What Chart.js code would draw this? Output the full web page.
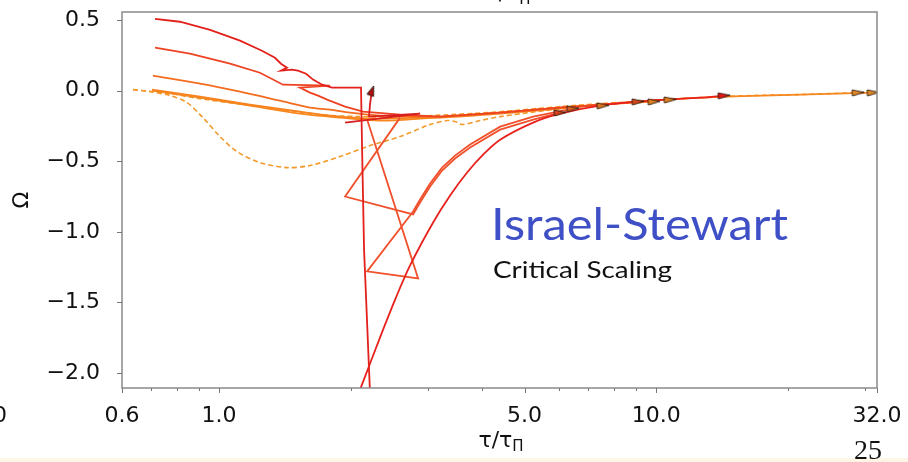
<!DOCTYPE html>
<html>
<head>
<meta charset="utf-8">
<script src="https://cdn.jsdelivr.net/npm/chart.js@4.4.1/dist/chart.umd.min.js"></script>
<style>
  html, body { margin: 0; padding: 0; background: #fff; }
  #wrap { width: 908px; height: 462px; overflow: hidden; }
</style>
</head>
<body>
<div id="wrap"><canvas id="chart" width="908" height="462"></canvas></div>
<script>
// axis ticks
const xMajorTicks = [0.6, 1, 5, 10, 32]
const xMinorTicks = [0.7, 0.8, 0.9, 2, 3, 4, 6, 7, 8, 9, 20, 30]
const yTicks = [0.5, 0, -0.5, -1, -1.5, -2]

// trajectories, tau/tau_Pi vs Omega
// start at Omega = 0.5, runs away downwards
const tauA = [0.714, 0.814, 0.954, 1.117, 1.254, 1.343, 1.386, 1.431, 1.386, 1.469, 1.516, 1.582, 1.641, 1.721, 1.814, 1.994, 2.113, 2.125, 2.147, 2.216]
const omegaA = [0.509, 0.488, 0.431, 0.354, 0.283, 0.233, 0.191, 0.163, 0.141, 0.149, 0.141, 0.120, 0.078, 0.042, 0.021, 0.021, 0.021, -0.417, -1.124, -2.15]
// start at Omega = 0.3
const tauB = [0.714, 0.858, 1.060, 1.241, 1.401, 1.795, 1.532, 1.615, 1.685, 1.767, 1.943, 2.136, 2.596, 2.884, 3.205, 4.396, 6.030, 7.444, 9.095]
const omegaB = [0.304, 0.262, 0.191, 0.127, 0.042, 0.035, 0.021, -0.014, -0.035, -0.064, -0.113, -0.149, -0.170, -0.177, -0.184, -0.156, -0.120, -0.099, -0.078]
// start at Omega = 0.1
const tauC = [0.706, 0.905, 1.117, 1.379, 1.615, 1.795, 1.994, 2.336, 2.884, 3.205, 4.396, 6.030, 7.561]
const omegaC = [0.106, 0.050, -0.007, -0.071, -0.120, -0.134, -0.156, -0.177, -0.184, -0.184, -0.156, -0.120, -0.106]
// start at Omega = 0.0 (two solid)
const tauD = [0.703, 0.905, 1.177, 1.532, 1.795, 2.216, 2.884, 3.205, 4.396, 6.030, 7.444, 9.895]
const omegaD = [0.007, -0.042, -0.099, -0.149, -0.177, -0.198, -0.191, -0.191, -0.163, -0.127, -0.099, -0.078]
const tauE = [0.703, 0.905, 1.177, 1.532, 1.892, 2.336, 2.884, 4.396, 6.030, 7.444, 9.689, 12.61, 14.31, 21.36, 31.38]
const omegaE = [0, -0.050, -0.106, -0.163, -0.191, -0.212, -0.198, -0.156, -0.120, -0.099, -0.071, -0.050, -0.042, -0.028, -0.014]
// dashed ones
const tauF = [0.636, 0.772, 0.905, 1.241, 1.703, 2.102, 2.596, 3.378, 4.396, 6.030, 7.444, 9.689, 10.77]
const omegaF = [0.007, -0.021, -0.057, -0.113, -0.170, -0.184, -0.184, -0.170, -0.149, -0.113, -0.092, -0.071, -0.064]
const tauG = [0.636, 0.695, 0.772, 0.845, 0.919, 1.005, 1.099, 1.241, 1.431, 1.615, 1.892, 2.216, 2.596, 3.040, 3.325, 3.467, 3.598, 3.956, 4.396, 5.811, 7.444, 9.689, 12.61, 16.41, 21.36, 28.99]
const omegaG = [0.007, -0.007, -0.035, -0.085, -0.191, -0.325, -0.431, -0.509, -0.545, -0.530, -0.467, -0.389, -0.325, -0.240, -0.212, -0.219, -0.240, -0.212, -0.184, -0.134, -0.099, -0.071, -0.050, -0.035, -0.028, -0.014]
// coming up from below
const tauH = [2.080, 2.113, 2.336, 2.541, 2.736, 3.089, 3.378, 3.694, 4.019, 4.396, 5.231, 6.030, 7.444, 9.689, 12.61, 14.31]
const omegaH = [-2.157, -2.100, -1.747, -1.464, -1.238, -0.934, -0.743, -0.580, -0.453, -0.347, -0.226, -0.163, -0.106, -0.071, -0.050, -0.035]
// zig-zag ones
const tauI = [2.596, 1.943, 2.780, 2.884, 3.040, 3.238, 3.467, 3.753, 4.396, 5.231, 6.030]
const omegaI = [-0.191, -0.750, -0.877, -0.792, -0.679, -0.566, -0.481, -0.403, -0.276, -0.205, -0.156]
const tauJ = [2.182, 2.854, 2.182, 2.780, 2.884, 3.040, 3.238, 3.467, 3.753, 4.396, 5.231, 6.458]
const omegaJ = [-0.205, -1.330, -1.280, -0.856, -0.771, -0.658, -0.545, -0.460, -0.382, -0.255, -0.184, -0.127]
// short kink ending with the up arrow
const tauK = [1.943, 2.884, 2.204, 2.216, 2.239]
const omegaK = [-0.226, -0.163, -0.184, -0.092, 0.0]

const toPoints = (xs, ys) => xs.map((x, i) => ({ x, y: ys[i] }))

// arrow head drawn at the end of each trajectory
function makeArrow(fill, w, h) {
  const c = document.createElement('canvas')
  c.width = w
  c.height = h
  const g = c.getContext('2d')
  g.beginPath()
  g.moveTo(1, 1)
  g.lineTo(w - 1, h / 2)
  g.lineTo(1, h - 1)
  g.closePath()
  g.fillStyle = fill
  g.fill()
  g.strokeStyle = '#2a1a10'
  g.lineWidth = 0.9
  g.stroke()
  return c
}

const series = [
  { xs: tauK, ys: omegaK, color: '#d91e1e', tension: 0, arrow: '#b01010', rot: -70, size: [12, 9] },
  { xs: tauA, ys: omegaA, color: '#e3201b', tension: 0 },
  { xs: tauH, ys: omegaH, color: '#e8211d', tension: 0.3, arrow: '#e81616' },
  { xs: tauI, ys: omegaI, color: '#f0502b', tension: 0, arrow: '#d8441a' },
  { xs: tauJ, ys: omegaJ, color: '#f0502b', tension: 0, arrow: '#d8601e' },
  { xs: tauB, ys: omegaB, color: '#ee4322', tension: 0, arrow: '#d84a1a' },
  { xs: tauC, ys: omegaC, color: '#f46d1f', tension: 0.3, arrow: '#e0751f' },
  { xs: tauD, ys: omegaD, color: '#f7831e', tension: 0.3, arrow: '#e2801f' },
  { xs: tauE, ys: omegaE, color: '#f7871f', tension: 0.3, arrow: '#e58a24' },
  { xs: tauF, ys: omegaF, color: '#f39a2c', tension: 0.3, arrow: '#e2841f', dash: [5, 3] },
  { xs: tauG, ys: omegaG, color: '#f39a2c', tension: 0.3, arrow: '#e58a24', dash: [5, 3] }
]

const datasets = series.map(s => ({
  data: toPoints(s.xs, s.ys),
  borderColor: s.color,
  borderWidth: s.dash ? 1.6 : 1.8,
  borderDash: s.dash || [],
  tension: s.tension,
  pointRadius: 0,
  fill: false
}))

const fmtY = v => (v < 0 ? '\u2212' : '') + Math.abs(v).toFixed(1)

// text squeezed/stretched to a given width, like the slide's scaled font
function fitText(ctx, text, x, y, font, width) {
  ctx.font = font
  const w = ctx.measureText(text).width
  ctx.save()
  ctx.translate(x, y)
  ctx.scale(width / w, 1)
  ctx.fillText(text, 0, 0)
  ctx.restore()
}

const decorations = {
  id: 'decorations',
  beforeDraw(chart) {
    const { ctx, width, height } = chart
    ctx.save()
    ctx.fillStyle = '#ffffff'
    ctx.fillRect(0, 0, width, height)
    ctx.fillStyle = '#fdf6e6'
    ctx.fillRect(0, 458, width, height - 458)
    ctx.restore()
  },
  afterDatasetsDraw(chart) {
    const { ctx, chartArea: a } = chart
    ctx.save()
    ctx.beginPath()
    ctx.rect(a.left, a.top, a.right - a.left, a.bottom - a.top)
    ctx.clip()
    series.forEach((s, i) => {
      if (!s.arrow) return
      const pts = chart.getDatasetMeta(i).data
      const p = pts[pts.length - 1]
      const [w, h] = s.size || [14, 8]
      const img = makeArrow(s.arrow, w, h)
      ctx.save()
      ctx.translate(p.x, p.y)
      ctx.rotate(((s.rot || -3) * Math.PI) / 180)
      ctx.drawImage(img, -w / 2, -h / 2)
      ctx.restore()
    })
    ctx.restore()
  },
  afterDraw(chart) {
    const { ctx, chartArea: a, scales: { x, y } } = chart
    ctx.save()

    // frame
    ctx.strokeStyle = '#8a8a8a'
    ctx.lineWidth = 1.5
    ctx.strokeRect(a.left, a.top, a.right - a.left, a.bottom - a.top)

    // tick marks
    ctx.lineWidth = 1
    ctx.strokeStyle = '#777'
    ctx.beginPath()
    xMajorTicks.forEach(v => {
      const px = Math.round(x.getPixelForValue(v)) + 0.5
      ctx.moveTo(px, a.bottom)
      ctx.lineTo(px, a.bottom + 5)
    })
    xMinorTicks.forEach(v => {
      const px = Math.round(x.getPixelForValue(v)) + 0.5
      ctx.moveTo(px, a.bottom)
      ctx.lineTo(px, a.bottom + 3)
    })
    yTicks.forEach(v => {
      const py = Math.round(y.getPixelForValue(v)) + 0.5
      ctx.moveTo(a.left - 5, py)
      ctx.lineTo(a.left, py)
    })
    ctx.stroke()

    // axis titles
    ctx.fillStyle = '#111'
    const drawTauTitle = (cx, base) => {
      ctx.font = '22px "DejaVu Sans"'
      const main = 'τ/τ'
      const w1 = ctx.measureText(main).width
      ctx.font = '15px "DejaVu Sans"'
      const w2 = ctx.measureText('Π').width
      const left = cx - (w1 + w2) / 2
      ctx.textAlign = 'left'
      ctx.textBaseline = 'alphabetic'
      ctx.font = '22px "DejaVu Sans"'
      ctx.fillText(main, left, base)
      ctx.font = '15px "DejaVu Sans"'
      ctx.fillText('Π', left + w1, base + 4)
    }
    drawTauTitle(501, 447)
    drawTauTitle(508, 0)

    ctx.save()
    ctx.translate(22, 200)
    ctx.rotate(-Math.PI / 2)
    ctx.font = '22px "DejaVu Sans"'
    ctx.textAlign = 'center'
    ctx.textBaseline = 'middle'
    ctx.fillText('Ω', 0, 0)
    ctx.restore()

    // stray label cut off at the left edge
    ctx.font = '22px "DejaVu Sans"'
    ctx.textAlign = 'right'
    ctx.textBaseline = 'middle'
    ctx.fillText('0', 7, 416)

    // annotation
    ctx.textAlign = 'left'
    ctx.textBaseline = 'alphabetic'
    ctx.fillStyle = '#3f4fc6'
    fitText(ctx, 'Israel-Stewart', 491, 240, '45px Lato', 297)
    ctx.fillStyle = '#111'
    fitText(ctx, 'Critical Scaling', 493, 278, '23px Lato', 179)

    // page number
    ctx.font = '28px "Liberation Serif"'
    ctx.textAlign = 'center'
    ctx.fillText('25', 868, 459)

    ctx.restore()
  }
}

new Chart(document.getElementById('chart'), {
  type: 'line',
  data: { datasets },
  options: {
    responsive: false,
    animation: false,
    events: [],
    layout: { padding: { top: 12, right: 31, left: 0, bottom: 0 } },
    plugins: {
      legend: { display: false },
      tooltip: { enabled: false }
    },
    scales: {
      x: {
        type: 'logarithmic',
        min: 0.6,
        max: 32,
        afterBuildTicks: scale => { scale.ticks = xMajorTicks.map(v => ({ value: v })) },
        afterFit: scale => { scale.height = 74 },
        // invisible tick marks only push the labels away from the axis
        grid: { display: true, drawOnChartArea: false, drawTicks: true, tickLength: 17, color: 'rgba(0,0,0,0)' },
        border: { display: false },
        ticks: {
          autoSkip: false,
          maxRotation: 0,
          padding: 0,
          color: '#111',
          font: { family: 'DejaVu Sans', size: 22, lineHeight: 1 },
          callback: v => Number(v).toFixed(1)
        }
      },
      y: {
        type: 'linear',
        min: -2.106,
        max: 0.557,
        afterBuildTicks: scale => { scale.ticks = yTicks.map(v => ({ value: v })) },
        afterFit: scale => { scale.width = 122 },
        grid: { display: true, drawOnChartArea: false, drawTicks: true, tickLength: 22, color: 'rgba(0,0,0,0)' },
        border: { display: false },
        ticks: {
          padding: 0,
          color: '#111',
          font: { family: 'DejaVu Sans', size: 22, lineHeight: 1 },
          callback: v => fmtY(v)
        }
      }
    }
  },
  plugins: [decorations]
})
</script>
</body>
</html>
